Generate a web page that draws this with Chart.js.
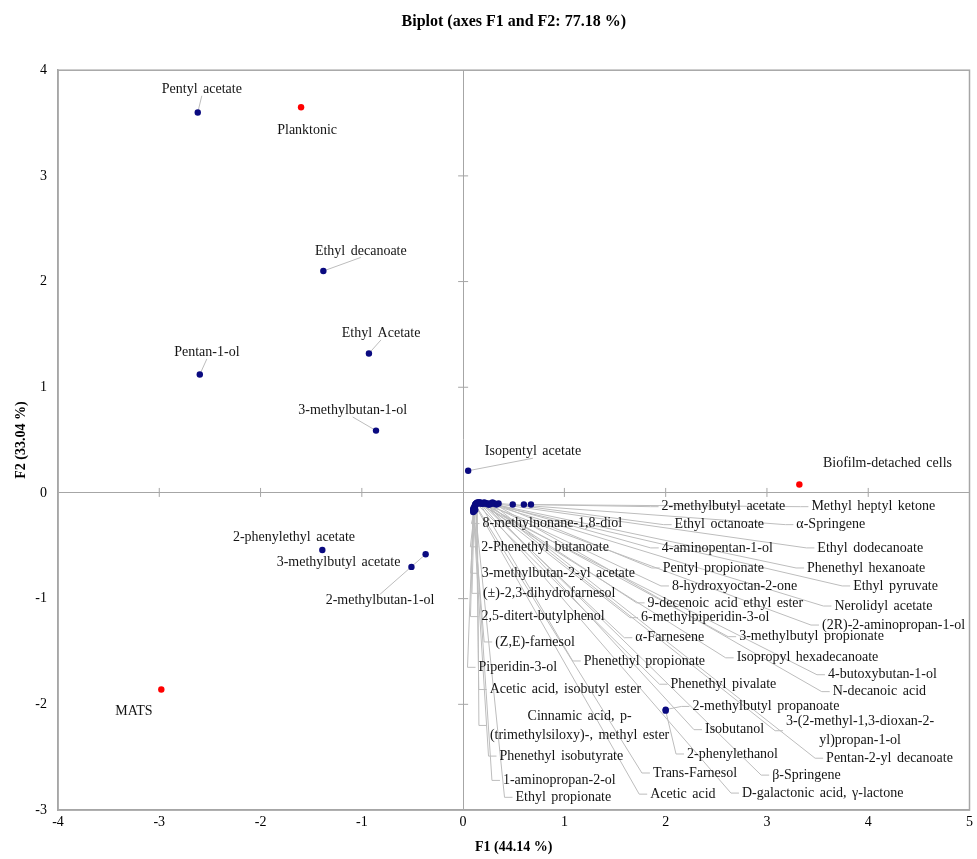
<!DOCTYPE html>
<html><head><meta charset="utf-8">
<script src="https://cdn.jsdelivr.net/npm/chart.js@4.4.1/dist/chart.umd.min.js"></script>
<style>html,body{margin:0;padding:0;background:#fff}#wrap{width:977px;height:859px;position:relative}</style>
</head><body><div id="wrap"><canvas id="c"></canvas></div>
<script>
// ---------- DATA ----------
const chartTitle = 'Biplot (axes F1 and F2: 77.18 %)';
const xAxisTitle = 'F1 (44.14 %)';
const yAxisTitle = 'F2 (33.04 %)';
const xTicks = [-4, -3, -2, -1, 0, 1, 2, 3, 4, 5];
const yTicks = [-3, -2, -1, 0, 1, 2, 3, 4];

// Variables (blue points)
const varNames = [
  'Pentyl acetate', 'Ethyl decanoate', 'Ethyl Acetate', 'Pentan-1-ol', '3-methylbutan-1-ol',
  'Isopentyl acetate', '2-phenylethyl acetate', '3-methylbutyl acetate', '2-methylbutan-1-ol',
  '2-methylbutyl acetate', 'Methyl heptyl ketone', 'Ethyl octanoate', 'α-Springene',
  '4-aminopentan-1-ol', 'Ethyl dodecanoate', 'Pentyl propionate', 'Phenethyl hexanoate',
  '8-hydroxyoctan-2-one', 'Ethyl pyruvate', '9-decenoic acid ethyl ester', 'Nerolidyl acetate',
  '6-methylpiperidin-3-ol', '(2R)-2-aminopropan-1-ol', 'α-Farnesene', '3-methylbutyl propionate',
  'Phenethyl propionate', 'Isopropyl hexadecanoate', '4-butoxybutan-1-ol', 'Phenethyl pivalate',
  'N-decanoic acid', '2-methylbutyl propanoate', '3-(2-methyl-1,3-dioxan-2-yl)propan-1-ol',
  'Isobutanol', '2-phenylethanol', 'Pentan-2-yl decanoate', 'Trans-Farnesol', 'β-Springene',
  'Acetic acid', 'D-galactonic acid, γ-lactone', '8-methylnonane-1,8-diol', '2-Phenethyl butanoate',
  '3-methylbutan-2-yl acetate', '(±)-2,3-dihydrofarnesol', '2,5-ditert-butylphenol', '(Z,E)-farnesol',
  'Piperidin-3-ol', 'Acetic acid, isobutyl ester', 'Cinnamic acid, p-(trimethylsiloxy)-, methyl ester',
  'Phenethyl isobutyrate', '1-aminopropan-2-ol', 'Ethyl propionate'
];
const varF1 = [
  -2.62, -1.38, -0.93, -2.60, -0.86,
  0.05, -1.39, -0.51, -0.37,
  0.67, 0.60, 0.49, 0.35,
  0.33, 0.31, 0.29, 0.27,
  0.25, 0.24, 0.22, 0.21,
  0.20, 0.19, 0.18, 0.17,
  0.16, 0.15, 0.14, 0.13,
  0.30, 2.00, 0.26,
  0.23, 2.00, 0.28, 0.12, 0.20,
  0.12, 0.17, 0.13, 0.12,
  0.11, 0.11, 0.10, 0.10,
  0.10, 0.13, 0.14,
  0.10, 0.11, 0.12
];
const varF2 = [
  3.60, 2.10, 1.32, 1.12, 0.59,
  0.21, -0.54, -0.70, -0.58,
  -0.11, -0.11, -0.11, -0.10,
  -0.11, -0.10, -0.09, -0.10,
  -0.11, -0.10, -0.10, -0.09,
  -0.095, -0.10, -0.10, -0.09,
  -0.09, -0.09, -0.10, -0.10,
  -0.10, -2.05, -0.11,
  -0.10, -2.06, -0.10, -0.11, -0.10,
  -0.12, -0.10, -0.10, -0.11,
  -0.13, -0.14, -0.15, -0.16,
  -0.17, -0.10, -0.09,
  -0.18, -0.17, -0.16
];

// Observations (red points)
const obsNames = ['Planktonic', 'Biofilm-detached cells', 'MATS'];
const obsF1 = [-1.60, 3.32, -2.98];
const obsF2 = [3.65, 0.08, -1.86];

// ---------- LABEL LAYOUT (label centre in axis units, leader anchor side) ----------
const labelLayout = {
  'Pentyl acetate': [-2.58, 3.82, 'b'],
  'Ethyl decanoate': [-1.01, 2.29, 'b'],
  'Ethyl Acetate': [-0.81, 1.51, 'b'],
  'Pentan-1-ol': [-2.53, 1.33, 'b'],
  '3-methylbutan-1-ol': [-1.09, 0.78, 'b'],
  'Isopentyl acetate': [0.69, 0.39, 'b'],
  '2-phenylethyl acetate': [-1.67, -0.42, 'n'],
  '3-methylbutyl acetate': [-1.23, -0.66, 'n'],
  '2-methylbutan-1-ol': [-0.82, -1.02, 't'],
  '2-methylbutyl acetate': [2.57, -0.13, 'l'],
  'Methyl heptyl ketone': [4.05, -0.13, 'l'],
  'Ethyl octanoate': [2.53, -0.30, 'l'],
  'α-Springene': [3.63, -0.30, 'l'],
  '4-aminopentan-1-ol': [2.51, -0.52, 'l'],
  'Ethyl dodecanoate': [4.02, -0.52, 'l'],
  'Pentyl propionate': [2.47, -0.71, 'l'],
  'Phenethyl hexanoate': [3.98, -0.71, 'l'],
  '8-hydroxyoctan-2-one': [2.68, -0.88, 'l'],
  'Ethyl pyruvate': [4.27, -0.88, 'l'],
  '9-decenoic acid ethyl ester': [2.59, -1.04, 'l'],
  'Nerolidyl acetate': [4.15, -1.07, 'l'],
  '6-methylpiperidin-3-ol': [2.39, -1.18, 'l'],
  '(2R)-2-aminopropan-1-ol': [4.25, -1.25, 'l'],
  'α-Farnesene': [2.04, -1.37, 'l'],
  '3-methylbutyl propionate': [3.44, -1.36, 'l'],
  'Phenethyl propionate': [1.79, -1.59, 'l'],
  'Isopropyl hexadecanoate': [3.40, -1.56, 'l'],
  '4-butoxybutan-1-ol': [4.14, -1.72, 'l'],
  'Phenethyl pivalate': [2.57, -1.81, 'l'],
  'N-decanoic acid': [4.11, -1.88, 'l'],
  '2-methylbutyl propanoate': [2.99, -2.02, 'l'],
  '3-(2-methyl-1,3-dioxan-2-yl)propan-1-ol': [3.92, -2.25, 'l'],
  'Isobutanol': [2.68, -2.24, 'l'],
  '2-phenylethanol': [2.66, -2.47, 'l'],
  'Pentan-2-yl decanoate': [4.21, -2.51, 'l'],
  'Trans-Farnesol': [2.29, -2.65, 'l'],
  'β-Springene': [3.39, -2.67, 'l'],
  'Acetic acid': [2.17, -2.85, 'l'],
  'D-galactonic acid, γ-lactone': [3.55, -2.84, 'l'],
  '8-methylnonane-1,8-diol': [0.88, -0.29, 'l'],
  '2-Phenethyl butanoate': [0.81, -0.51, 'l'],
  '3-methylbutan-2-yl acetate': [0.94, -0.76, 'l'],
  '(±)-2,3-dihydrofarnesol': [0.85, -0.95, 'l'],
  '2,5-ditert-butylphenol': [0.79, -1.17, 'l'],
  '(Z,E)-farnesol': [0.71, -1.41, 'l'],
  'Piperidin-3-ol': [0.54, -1.65, 'l'],
  'Acetic acid, isobutyl ester': [1.01, -1.86, 'l'],
  'Cinnamic acid, p-(trimethylsiloxy)-, methyl ester': [1.15, -2.20, 'l'],
  'Phenethyl isobutyrate': [0.97, -2.49, 'l'],
  '1-aminopropan-2-ol': [0.95, -2.72, 'l'],
  'Ethyl propionate': [0.99, -2.88, 'l'],
  'Planktonic': [-1.54, 3.43, 'n'],
  'Biofilm-detached cells': [4.19, 0.28, 'n'],
  'MATS': [-3.25, -2.07, 'n']
};
const labelWrap = {
  '3-(2-methyl-1,3-dioxan-2-yl)propan-1-ol': ['3-(2-methyl-1,3-dioxan-2-', 'yl)propan-1-ol'],
  'Cinnamic acid, p-(trimethylsiloxy)-, methyl ester': ['Cinnamic acid, p-', '(trimethylsiloxy)-, methyl ester']
};

// ---------- STYLE ----------
const axisGray = '#A6A6A6';
const leaderGray = '#BDBDBD';
const varColor = '#0A0A80';
const obsColor = '#FF0000';
const serif = '"Liberation Serif", "Times New Roman", serif';

const labelPlugin = {
  id: 'biplotLabels',
  _items(chart) {
    const ctx = chart.ctx;
    const xs = chart.scales.x, ys = chart.scales.y;
    ctx.save();
    ctx.font = '14px ' + serif;
    try { ctx.wordSpacing = '2px'; } catch (e) {}
    const items = [];
    const add = (names, dsIndex) => {
      const meta = chart.getDatasetMeta(dsIndex);
      names.forEach((n, i) => {
        const lay = labelLayout[n];
        if (!lay) return;
        const pt = meta.data[i];
        const lines = labelWrap[n] || [n];
        const lh = 19;
        const cx = xs.getPixelForValue(lay[0]);
        const cy = ys.getPixelForValue(lay[1]);
        const widths = lines.map(l => ctx.measureText(l).width);
        const maxW = Math.max(...widths);
        const h = lines.length * lh;
        items.push({ n, lines, widths, cx, cy, lh, top: cy - h / 2, bottom: cy + h / 2,
          left: cx - maxW / 2, px: pt.x, py: pt.y, anchor: lay[2] });
      });
    };
    add(varNames, 0);
    add(obsNames, 1);
    ctx.restore();
    return items;
  },
  beforeDatasetsDraw(chart) {
    const ctx = chart.ctx;
    const items = this._items(chart);
    ctx.save();
    ctx.strokeStyle = leaderGray;
    ctx.lineWidth = 1;
    items.forEach(it => {
      let ax, ay;
      if (it.anchor === 'l') { ax = it.left - 3; ay = it.cy; }
      else if (it.anchor === 'b') { ax = it.cx; ay = it.bottom - 3; }
      else if (it.anchor === 't') { ax = it.cx; ay = it.top + 3; }
      else return;
      ctx.beginPath();
      ctx.moveTo(it.px, it.py);
      if (it.anchor === 'l') {
        ctx.lineTo(ax - 8, ay);
      }
      ctx.lineTo(ax, ay);
      ctx.stroke();
    });
    ctx.restore();
  },
  afterDatasetsDraw(chart) {
    const ctx = chart.ctx;
    const items = this._items(chart);
    ctx.save();
    ctx.font = '14px ' + serif;
    try { ctx.wordSpacing = '2px'; } catch (e) {}
    ctx.fillStyle = '#141414';
    ctx.textAlign = 'center';
    ctx.textBaseline = 'middle';
    items.forEach(it => {
      it.lines.forEach((l, k) => {
        const y = it.top + it.lh * (k + 0.5);
        ctx.fillText(l, it.cx, y);
      });
    });
    ctx.restore();
  }
};

const framePlugin = {
  id: 'frame',
  beforeDatasetsDraw(chart) {
    const { ctx, chartArea: a } = chart;
    const xs = chart.scales.x, ys = chart.scales.y;
    ctx.save();
    ctx.strokeStyle = axisGray;
    ctx.lineWidth = 1.5;
    ctx.strokeRect(a.left, a.top, a.right - a.left, a.bottom - a.top);
    ctx.lineWidth = 1;
    const x0 = xs.getPixelForValue(0), y0 = ys.getPixelForValue(0);
    ctx.beginPath();
    xTicks.forEach(v => {
      if (v === xTicks[0] || v === xTicks[xTicks.length - 1] || v === 0) return;
      const x = xs.getPixelForValue(v);
      ctx.moveTo(x, y0 - 5); ctx.lineTo(x, y0 + 4);
    });
    yTicks.forEach(v => {
      if (v === yTicks[0] || v === yTicks[yTicks.length - 1] || v === 0) return;
      const y = ys.getPixelForValue(v);
      ctx.moveTo(x0 - 5, y); ctx.lineTo(x0 + 5, y);
    });
    ctx.stroke();
    ctx.restore();
  }
};

const zeroGrid = c => (c.tick && c.tick.value === 0) ? axisGray : 'rgba(0,0,0,0)';

new Chart(document.getElementById('c'), {
  type: 'scatter',
  data: {
    datasets: [
      { label: 'Variables', data: varF1.map((x, i) => ({ x, y: varF2[i] })),
        backgroundColor: varColor, borderColor: varColor, pointRadius: 3.2, pointBorderWidth: 0 },
      { label: 'Observations', data: obsF1.map((x, i) => ({ x, y: obsF2[i] })),
        backgroundColor: obsColor, borderColor: obsColor, pointRadius: 3.2, pointBorderWidth: 0 }
    ]
  },
  options: {
    responsive: true,
    maintainAspectRatio: false,
    animation: false,
    layout: { padding: { top: 0, right: 5, left: 0, bottom: 0 } },
    plugins: {
      legend: { display: false },
      tooltip: { enabled: false },
      title: {
        display: true, text: chartTitle, fullSize: false, color: '#000',
        font: { family: serif, size: 16, weight: 'bold' },
        padding: { top: 12, bottom: 39 }
      }
    },
    scales: {
      x: {
        type: 'linear', min: xTicks[0], max: xTicks[xTicks.length - 1],
        afterFit: s => { s.height = 49; },
        afterBuildTicks: s => { s.ticks = xTicks.map(v => ({ value: v })); },
        ticks: { color: '#000', font: { family: serif, size: 14 }, padding: 4 },
        grid: { color: zeroGrid, lineWidth: 1, drawTicks: false },
        border: { display: true, color: axisGray, width: 1.5 },
        title: { display: true, text: xAxisTitle, color: '#000',
          font: { family: serif, size: 14, weight: 'bold' }, padding: { top: 2, bottom: 3 } }
      },
      y: {
        type: 'linear', min: yTicks[0], max: yTicks[yTicks.length - 1],
        afterFit: s => { s.width = 58; },
        afterBuildTicks: s => { s.ticks = yTicks.map(v => ({ value: v })); },
        ticks: { color: '#000', font: { family: serif, size: 14 }, padding: 11 },
        grid: { color: zeroGrid, lineWidth: 1, drawTicks: false },
        border: { display: true, color: axisGray, width: 1.5 },
        title: { display: true, text: yAxisTitle, color: '#000',
          font: { family: serif, size: 14, weight: 'bold' }, padding: { top: 13, bottom: 0 } }
      }
    }
  },
  plugins: [framePlugin, labelPlugin]
});
</script>
</body></html>
